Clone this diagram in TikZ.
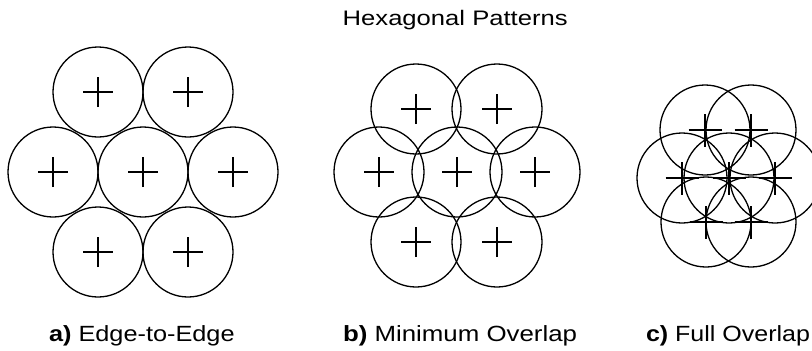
\documentclass[tikz,border=0pt]{standalone}
\usepackage{graphicx}
\usepackage{fontspec}
\setmainfont{Liberation Sans}
\begin{document}
\begin{tikzpicture}[x=1pt,y=-1pt,
  ring/.style={draw=black, line width=1.3pt, circle, minimum size=90pt, inner sep=0pt, outer sep=0pt},
  crossln/.style={draw=black, line width=1.3pt},
  lbl/.style={anchor=base west, inner sep=0pt, outer sep=0pt}]
\useasboundingbox (0,0) rectangle (812,351);
% circles
\foreach \n/\x/\y in {a1/98/92, a2/188/92, a3/53/172, a4/143/172, a5/233/172, a6/98/252, a7/188/252,
                      b1/416/109, b2/497/109, b3/379/172, b4/457/172, b5/535/172, b6/416/242, b7/497/242,
                      c1/705/130, c2/751/130, c3/682/178, c4/729/178, c5/775/178, c6/706/222, c7/751/222}
  \node[ring] (\n) at (\x,\y) {};
% crosses
\foreach \n/\s in {a1/15, a2/15, a3/15, a4/15, a5/15, a6/15, a7/15,
                   b1/15, b2/15, b3/15, b4/15, b5/15, b6/15, b7/15,
                   c1/16.5, c2/16.5, c3/16.5, c4/16.5, c5/16.5, c6/16.5, c7/16.5}
  \draw[crossln] ([xshift=-\s pt]\n.center) -- ([xshift=\s pt]\n.center)
                 ([yshift=-\s pt]\n.center) -- ([yshift=\s pt]\n.center);
% texts
\node[lbl] (title) at (342.7,25.7) {\scalebox{1.22}[1]{\fontsize{21}{24}\selectfont Hexagonal Patterns}};
\node[lbl] (la) at (49,341) {\scalebox{1.15}[1]{\fontsize{22}{26}\selectfont\textbf{a)} Edge-to-Edge}};
\node[lbl] (lb) at (343,341) {\scalebox{1.175}[1]{\fontsize{22}{26}\selectfont\textbf{b)} Minimum Overlap}};
\node[lbl] (lc) at (646,341) {\scalebox{1.137}[1]{\fontsize{22}{26}\selectfont\textbf{c)} Full Overlap}};
\end{tikzpicture}
\end{document}
